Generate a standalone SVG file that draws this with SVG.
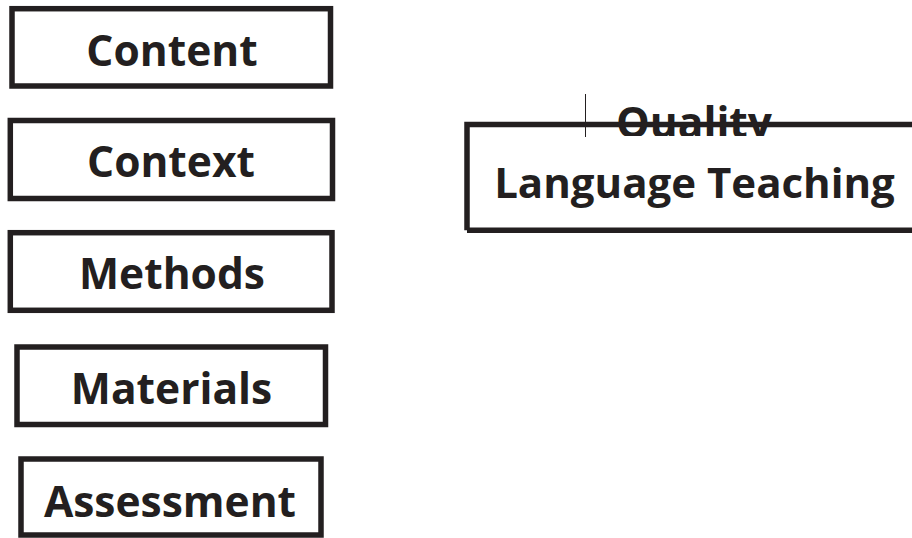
<svg xmlns="http://www.w3.org/2000/svg" width="912" height="538" viewBox="0 0 912 538">
<style>
.box{fill:#fff;stroke:#231f20;stroke-width:5.5}
.lbl{font-family:"Open Sans","Liberation Sans",sans-serif;font-weight:bold;font-size:42.5px;fill:#231f20;text-anchor:middle}
.big{font-size:42px}
</style>
<defs>
<clipPath id="qclip"><rect x="460" y="90" width="452" height="46"/></clipPath>
</defs>
<rect width="912" height="538" fill="#fff"/>
<g id="content"><rect class="box" x="12" y="8.7" width="318.5" height="77.3"/><text class="lbl" x="172" y="66">Content</text></g>
<g id="context"><rect class="box" x="10.3" y="120.5" width="322.2" height="78"/><text class="lbl" x="171" y="177">Context</text></g>
<g id="methods"><rect class="box" x="10.3" y="232.7" width="321.7" height="77.6"/><text class="lbl" x="172" y="289">Methods</text></g>
<g id="materials"><rect class="box" x="17" y="347" width="308.5" height="77.5"/><text class="lbl" x="171.5" y="404">Materials</text></g>
<g id="assessment"><rect class="box" x="21" y="459" width="300" height="76"/><text class="lbl" x="170" y="516.5">Assessment</text></g>
<g id="quality">
<text class="lbl" x="694" y="138" clip-path="url(#qclip)">Quality</text>
<path d="M467,230.3 V124.5 H916 M467,230.3 H916" fill="none" stroke="#231f20" stroke-width="5.5"/>
<text class="lbl big" x="694.5" y="198">Language Teaching</text>
<line x1="585.5" y1="94" x2="585.5" y2="137" stroke="#231f20" stroke-width="1"/>
</g>
<g id="connectors"></g>
</svg>
